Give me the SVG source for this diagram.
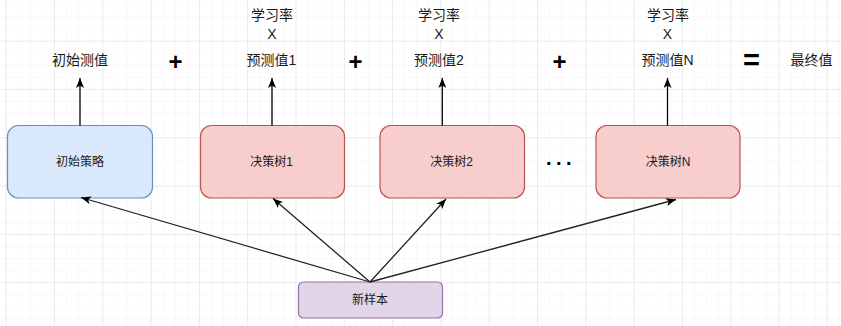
<svg xmlns="http://www.w3.org/2000/svg" width="841" height="326" viewBox="0 0 841 326">
  <defs>
    <pattern id="minor" x="5.7" y="4.5" width="12.075" height="12.075" patternUnits="userSpaceOnUse">
      <path d="M0,0 H12.075 M0,0 V12.075" fill="none" stroke="#f2f2f2" stroke-width="1"/>
    </pattern>
    <pattern id="major" x="5.7" y="40.7" width="48.3" height="48.3" patternUnits="userSpaceOnUse">
      <path d="M0,0 H48.3 M0,0 V48.3" fill="none" stroke="#e0e0e0" stroke-width="1"/>
    </pattern>
    <marker id="arrow" viewBox="0 0 10 8" refX="10" refY="4" markerWidth="10" markerHeight="8" orient="auto" markerUnits="userSpaceOnUse">
      <path d="M0,0 L10,4 L0,8 L2.5,4 Z" fill="#000"/>
    </marker>
    <style>
      .t { font-family: "Liberation Sans", "Noto Sans CJK SC", sans-serif; fill: #1a1a1a; text-anchor: middle; dominant-baseline: central; }
      .lbl { font-size: 14px; }
      .nl { font-size: 12px; }
      .op { font-size: 24px; font-weight: bold; fill: #000; }
      .blue { fill: #dae8fc; stroke: #6c8ebf; stroke-width: 1.2; }
      .red { fill: #f8cecc; stroke: #b85450; stroke-width: 1.2; }
      .purple { fill: #e1d5e7; stroke: #9673a6; stroke-width: 1.2; }
      .conn line { stroke: #000; stroke-width: 1.3; marker-end: url(#arrow); }
      .conn .d { stroke: #222; }
    </style>
  </defs>
  <rect width="841" height="326" fill="#ffffff"/>
  <rect width="841" height="326" fill="url(#minor)"/>
  <rect width="841" height="326" fill="url(#major)"/>

  <g id="labels">
    <text class="t lbl" x="80" y="59.5">初始测值</text>
    <text class="t op" x="175.5" y="61.5">+</text>
    <text class="t lbl" x="272" y="15">学习率</text>
    <text class="t lbl" x="272" y="33.5">X</text>
    <text class="t lbl" x="271.5" y="59.5">预测值1</text>
    <text class="t op" x="355.5" y="61.5">+</text>
    <text class="t lbl" x="439" y="15">学习率</text>
    <text class="t lbl" x="439" y="33.5">X</text>
    <text class="t lbl" x="439" y="59.5">预测值2</text>
    <text class="t op" x="559.5" y="61.5">+</text>
    <text class="t lbl" x="668" y="15">学习率</text>
    <text class="t lbl" x="667.5" y="33.5">X</text>
    <text class="t lbl" x="667.5" y="59.5">预测值N</text>
    <text class="t op" x="751.5" y="59.5" style="font-size:29px">=</text>
    <text class="t lbl" x="811.5" y="59.5">最终值</text>
    <text class="t" x="561" y="158" style="font-size:20px;font-weight:bold;fill:#000;letter-spacing:4.4px">...</text>
  </g>

  <g id="node-init">
    <rect class="blue" x="7.5" y="125.5" width="145" height="72.5" rx="11" ry="11"/>
    <text class="t nl" x="80" y="161.7">初始策略</text>
  </g>
  <g id="node-tree1">
    <rect class="red" x="200.5" y="125.5" width="144" height="72.5" rx="11" ry="11"/>
    <text class="t nl" x="271.5" y="161.7">决策树1</text>
  </g>
  <g id="node-tree2">
    <rect class="red" x="380" y="125.5" width="144.5" height="72.5" rx="11" ry="11"/>
    <text class="t nl" x="451.7" y="161.7">决策树2</text>
  </g>
  <g id="node-treeN">
    <rect class="red" x="596" y="125.5" width="144" height="72.5" rx="11" ry="11"/>
    <text class="t nl" x="668" y="161.7">决策树N</text>
  </g>
  <g id="node-sample">
    <rect class="purple" x="298.5" y="282" width="144" height="36" rx="5" ry="5"/>
    <text class="t nl" x="370" y="300">新样本</text>
  </g>

  <g id="connectors" class="conn">
    <line x1="80" y1="125.5" x2="80" y2="78"/>
    <line x1="272" y1="125.5" x2="272" y2="78"/>
    <line x1="442.3" y1="125.5" x2="442.3" y2="78"/>
    <line x1="667.5" y1="125.5" x2="667.5" y2="78"/>
    <line class="d" x1="370" y1="282" x2="81" y2="197.5"/>
    <line class="d" x1="370" y1="282" x2="273" y2="198.5"/>
    <line class="d" x1="370" y1="282" x2="446" y2="199"/>
    <line class="d" x1="370" y1="282" x2="676" y2="199.5"/>
  </g>
</svg>
